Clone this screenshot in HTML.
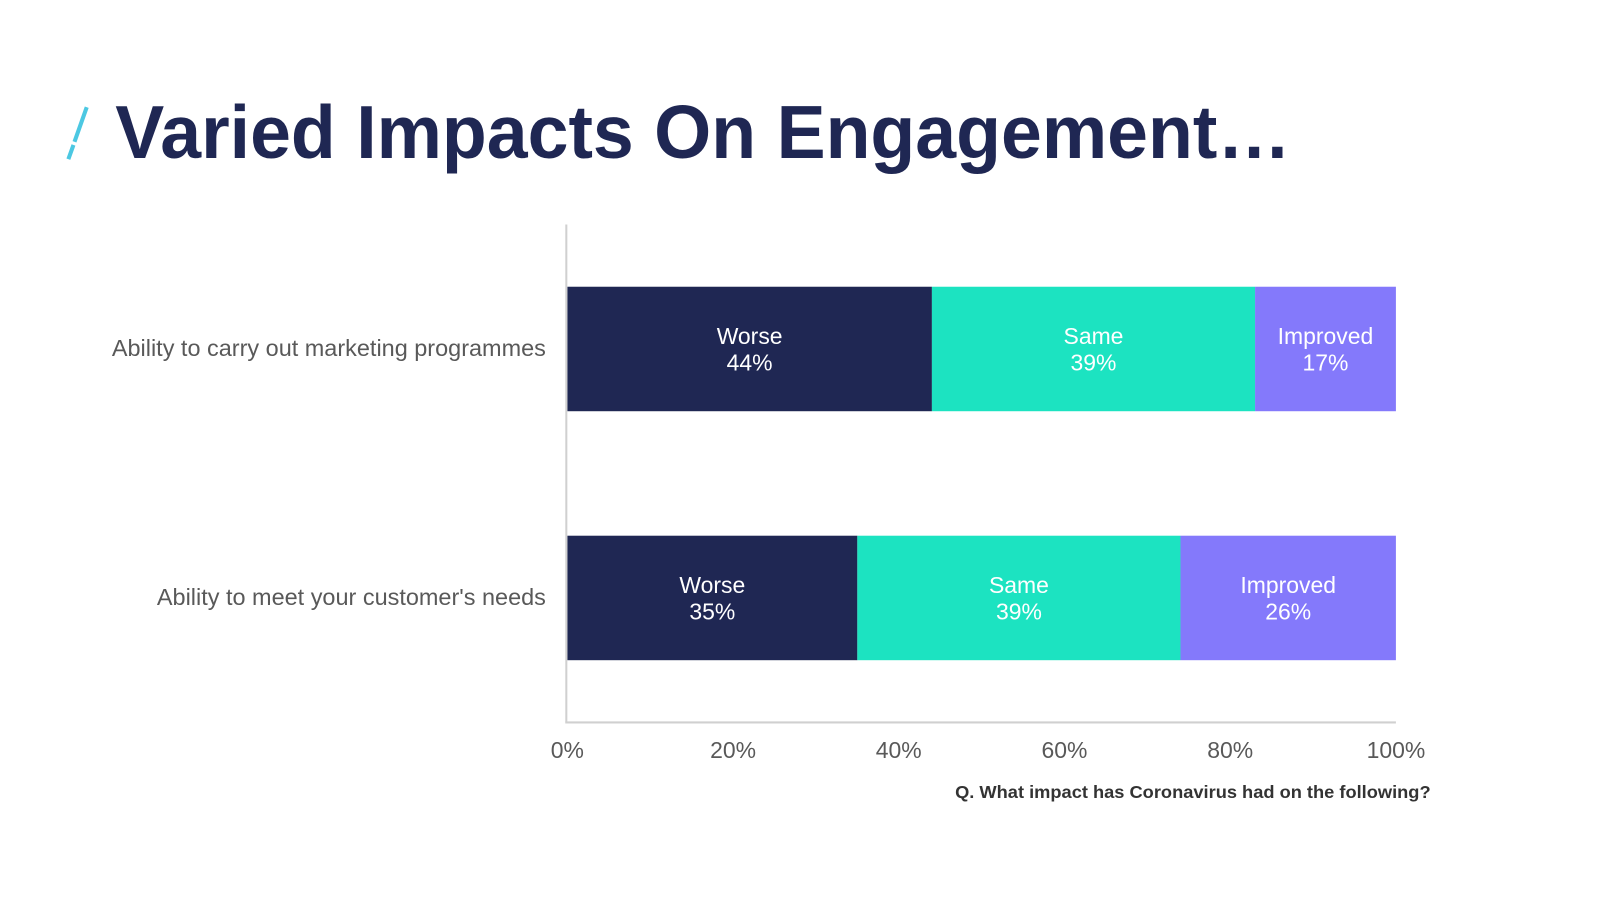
<!DOCTYPE html>
<html><head><meta charset="utf-8"><style>
html,body{margin:0;padding:0;background:#fff;width:1600px;height:900px;overflow:hidden}
svg{display:block;font-family:"Liberation Sans",sans-serif}
</style></head><body>
<svg width="1600" height="900">
<g transform="scale(1.0204)">
<g>
<line x1="85" y1="105" x2="73" y2="139" stroke="#4cc8e2" stroke-width="4"/>
<line x1="72" y1="142" x2="67" y2="156" stroke="#4cc8e2" stroke-width="4"/>
</g>
<text x="113" y="155" font-size="74" font-weight="bold" fill="#1f2753" textLength="1152" lengthAdjust="spacingAndGlyphs">Varied Impacts On Engagement…</text>
<g id="plot"></g>
<text x="1402" y="782" text-anchor="end" font-size="17" font-weight="bold" fill="#333" textLength="466" lengthAdjust="spacingAndGlyphs">Q. What impact has Coronavirus had on the following?</text>
</g>
</svg>
<script>
const categories = ["Ability to carry out marketing programmes", "Ability to meet your customer's needs"];
const seriesNames = ["Worse", "Same", "Improved"];
const worse = [44, 35];
const same = [39, 39];
const improved = [17, 26];
const ticks = [0, 20, 40, 60, 80, 100];
const colors = ["#1f2753", "#1ce3c1", "#8479fb"];
const NS = "http://www.w3.org/2000/svg";
const g = document.getElementById('plot');
const x0 = 556, x1 = 1368, yTop = 220, yBot = 708;
const xs = v => x0 + (x1 - x0) * v / 100;
const bandH = (yBot - yTop) / categories.length;
function el(t, a) { const e = document.createElementNS(NS, t); for (const k in a) e.setAttribute(k, a[k]); g.appendChild(e); return e; }
const series = [worse, same, improved];
categories.forEach((c, i) => {
  const yc = yTop + bandH * (i + 0.5);
  const bh = 122;
  let acc = 0;
  series.forEach((s, j) => {
    const v = s[i];
    const r = el('rect', { x: xs(acc), y: yc - bh / 2, width: xs(acc + v) - xs(acc), height: bh, fill: colors[j] });
    
    
    const cx = (xs(acc) + xs(acc + v)) / 2;
    const t1 = el('text', { x: cx, y: yc - 5, 'text-anchor': 'middle', 'font-size': 22.5, fill: '#fff' });
    t1.textContent = seriesNames[j];
    
    
    const t2 = el('text', { x: cx, y: yc + 21, 'text-anchor': 'middle', 'font-size': 22.5, fill: '#fff' });
    t2.textContent = v + '%';
    
    
    acc += v;
  });
  const cl = el('text', { x: 535, y: yc + 7, 'text-anchor': 'end', 'font-size': 23, fill: '#595959' });
  cl.textContent = c;
  
  
});
const ya = el('line', { x1: x0 - 1, y1: yTop, x2: x0 - 1, y2: yBot, stroke: '#d0d0d0', 'stroke-width': 2 });


const xa = el('line', { x1: x0 - 2, y1: yBot, x2: x1, y2: yBot, stroke: '#d0d0d0', 'stroke-width': 2 });


ticks.forEach(t => {
  const tl = el('text', { x: xs(t), y: 743, 'text-anchor': 'middle', 'font-size': 22.5, fill: '#595959' });
  tl.textContent = t + '%';
  
  
});
</script>
</body></html>
